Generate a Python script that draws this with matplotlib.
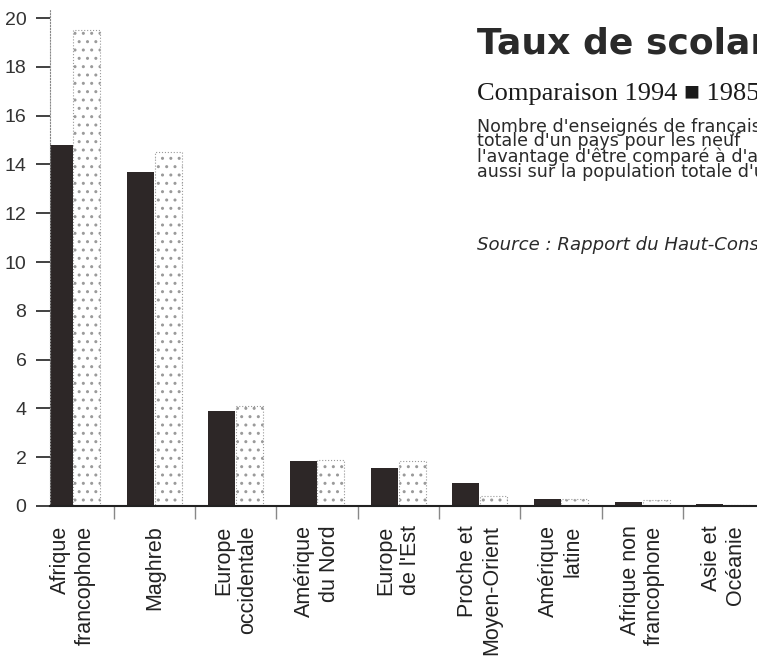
import matplotlib.pyplot as plt
import numpy as np

plt.rcParams['font.family'] = ['Liberation Sans', 'DejaVu Sans']

categories = ["Afrique\nfrancophone", "Maghreb", "Europe\noccidentale", "Amérique\ndu Nord",
              "Europe\nde l'Est", "Proche et\nMoyen-Orient", "Amérique\nlatine",
              "Afrique non\nfrancophone", "Asie et\nOcéanie"]
val_1994 = [14.8, 13.7, 3.9, 1.85, 1.55, 0.95, 0.3, 0.15, 0.08]
val_1985 = [19.5, 14.5, 4.1, 1.9, 1.85, 0.4, 0.3, 0.25, 0.05]
yticks = list(range(0, 21, 2))

titre = "Taux de scolarisation"
sous_titre = "Comparaison 1994 \u25A0 1985"
notes = ["Nombre d'enseignés de français",
         "totale d'un pays pour les neuf",
         "l'avantage d'être comparé à d'a",
         "aussi sur la population totale d'u"]
source = "Source : Rapport du Haut-Conseil"

W, H = 757, 664
fig = plt.figure(figsize=(W / 100, H / 100), dpi=100)
fig.patch.set_facecolor('white')
ax = fig.add_axes([50 / W, 158 / H, 707 / W, 496 / H])

x = np.arange(len(categories))
w = 0.33
ax.bar(x - 0.17, val_1994, w, color='#2d2727', zorder=2)
ax.bar(x + 0.17, val_1985, w, facecolor='white', edgecolor='#9a9a9a',
       hatch='..', linewidth=0.8, linestyle=':', zorder=2)

ax.set_xlim(-0.283, 8.41)
ax.set_ylim(0, 20.33)

# axes
for s in ['top', 'right']:
    ax.spines[s].set_visible(False)
ax.spines['left'].set_linestyle(':')
ax.spines['left'].set_color('#888888')
ax.spines['bottom'].set_color('#222222')
ax.spines['bottom'].set_linewidth(1.5)

ax.set_yticks(yticks)
ax.tick_params(axis='y', length=10, width=1.3, color='#333333', pad=7,
               labelsize=14, labelcolor='#333333')

ax.set_xticks(x)
ax.set_xticklabels(categories, rotation=90, va='top', ha='center',
                   multialignment='right', fontsize=15.5, color='#222222')
ax.tick_params(axis='x', which='major', length=0, pad=14)
ax.set_xticks(x[:-1] + 0.5, minor=True)
ax.tick_params(axis='x', which='minor', length=9, width=1, color='#888888')

# bloc de texte en haut à droite
x0 = 477 / W
fig.text(x0, 1 - 54 / H, titre, family='DejaVu Sans', weight='bold',
         fontsize=26, color='#2a2a2a', va='baseline')
fig.text(x0, 1 - 100 / H, sous_titre, family=['Liberation Serif', 'DejaVu Sans'],
         fontsize=19, color='#1a1a1a', va='baseline')
fig.text(x0, 1 - 117 / H, "\n".join(notes), family='DejaVu Sans', fontsize=12.6,
         linespacing=0.78, color='#2a2a2a', va='top')
fig.text(x0, 1 - 250 / H, source, family='DejaVu Sans', fontsize=13.1,
         style='italic', color='#2a2a2a', va='baseline')

fig.savefig('out.png', dpi=100)
